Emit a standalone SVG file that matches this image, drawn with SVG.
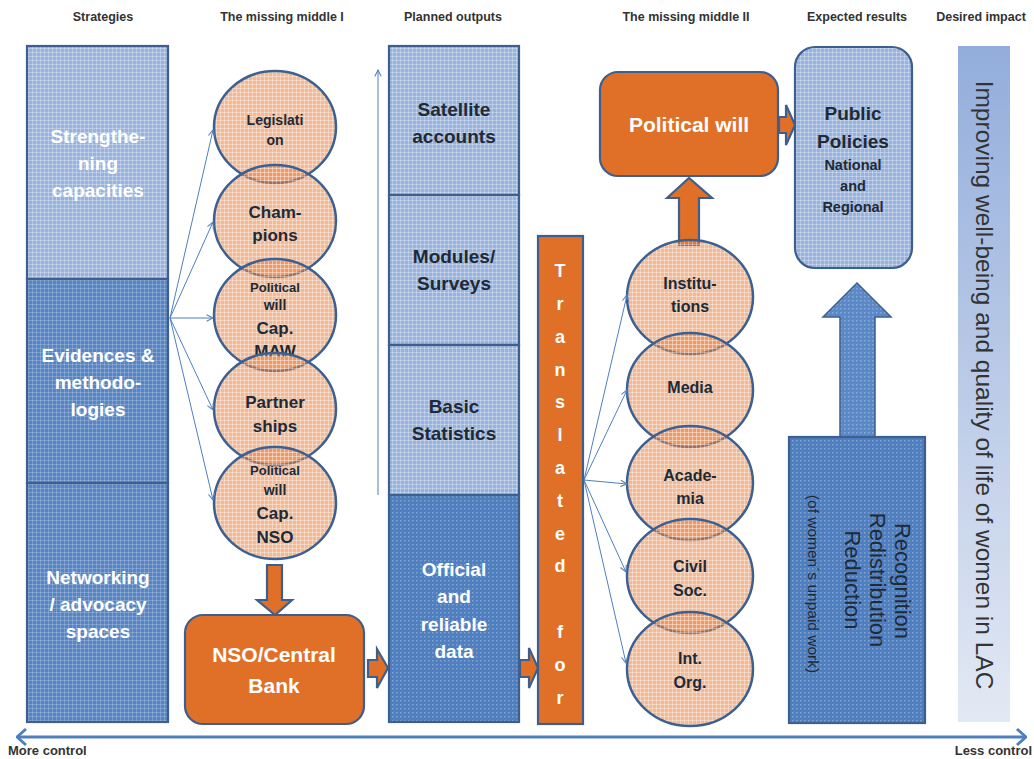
<svg xmlns="http://www.w3.org/2000/svg" width="1034" height="759" viewBox="0 0 1034 759">
<defs>
<style>
text{font-family:"Liberation Sans",Arial,sans-serif}
.h{font-size:12.5px;font-weight:bold;fill:#333;text-anchor:middle}
.t{font-weight:bold;text-anchor:middle}
.w{fill:#fff}
.d{fill:#1e2a38}
.bd{stroke:#3d5f8f;stroke-width:2.2}
.or{fill:#e07028;stroke:#3d5f8f;stroke-width:2.2}
.cn{fill:none;stroke:#4f7fbf;stroke-width:1;marker-end:url(#ah)}
.circ{fill:url(#pCirc);stroke:#3d6090;stroke-width:2.5}
.rot{fill:#1e2a38;text-anchor:middle}
</style>
<pattern id="pLight" width="4" height="4" patternUnits="userSpaceOnUse"><rect width="4" height="4" fill="#97b2dc"/><path d="M0 0.5H4M0.5 0V4" stroke="#fff" stroke-opacity="0.3" stroke-width="1"/></pattern>
<pattern id="pMid" width="4" height="4" patternUnits="userSpaceOnUse"><rect width="4" height="4" fill="#5785c3"/><path d="M0 0.5H4M0.5 0V4" stroke="#fff" stroke-opacity="0.2" stroke-width="1"/></pattern>
<pattern id="pDark" width="4" height="4" patternUnits="userSpaceOnUse"><rect width="4" height="4" fill="#4f7fbf"/><rect x="0" y="0" width="1.5" height="1.5" fill="#9fbbe3" fill-opacity="0.6"/></pattern>
<pattern id="pArrow" width="4" height="4" patternUnits="userSpaceOnUse"><rect width="4" height="4" fill="#5b88c6"/><rect x="0" y="0" width="1.5" height="1.5" fill="#a8c2e6" fill-opacity="0.6"/></pattern>
<pattern id="pCirc" width="4" height="4" patternUnits="userSpaceOnUse"><rect width="4" height="4" fill="#e8803d" fill-opacity="0.55"/><path d="M0 0.5H4M0.5 0V4" stroke="#fff" stroke-opacity="0.35" stroke-width="1"/></pattern>
<linearGradient id="gImp" x1="0" y1="0" x2="0" y2="1"><stop offset="0" stop-color="#93addb"/><stop offset="1" stop-color="#e3e9f4"/></linearGradient>
<marker id="ah" viewBox="0 0 10 10" refX="9" refY="5" markerWidth="8" markerHeight="8" orient="auto" markerUnits="userSpaceOnUse"><path d="M1,1 L9,5 L1,9" fill="none" stroke="#4f7fbf" stroke-width="1.3"/></marker>
<marker id="ahB" viewBox="0 0 12 20" refX="11" refY="10" markerWidth="12" markerHeight="20" orient="auto-start-reverse" markerUnits="userSpaceOnUse"><path d="M2,2 L11,10 L2,18" fill="none" stroke="#4f7fbf" stroke-width="3"/></marker>
</defs>
<rect width="1034" height="759" fill="#fff"/>

<g id="headers">
<text class="h" x="103" y="21">Strategies</text>
<text class="h" x="282" y="21">The missing middle I</text>
<text class="h" x="453" y="21">Planned outputs</text>
<text class="h" x="686" y="21">The missing middle II</text>
<text class="h" x="857" y="21">Expected results</text>
<text class="h" x="981" y="21">Desired impact</text>
</g>

<g id="strengthening">
<rect class="bd" x="27" y="46" width="141" height="233" fill="url(#pLight)"/>
<text class="t w" font-size="19" x="98" y="143">Strengthe-</text>
<text class="t w" font-size="19" x="98" y="170">ning</text>
<text class="t w" font-size="19" x="98" y="197">capacities</text>
</g>
<g id="evidences">
<rect class="bd" x="27" y="279" width="141" height="204" fill="url(#pMid)"/>
<text class="t w" font-size="19" x="98" y="362">Evidences &amp;</text>
<text class="t w" font-size="19" x="98" y="389">methodo-</text>
<text class="t w" font-size="19" x="98" y="416">logies</text>
</g>
<g id="networking">
<rect class="bd" x="27" y="483" width="141" height="239" fill="url(#pMid)"/>
<text class="t w" font-size="19" x="98" y="584">Networking</text>
<text class="t w" font-size="19" x="98" y="611">/ advocacy</text>
<text class="t w" font-size="19" x="98" y="638">spaces</text>
</g>

<g id="arrow-nso-down"><path class="or" d="M267,565 L282,565 L282,600 L292,600 L275,615 L257,600 L267,600 Z"/></g>
<g id="arrow-inst-up"><path class="or" d="M667,198 L689,178 L712,198 L699,198 L699,245 L679,245 L679,198 Z"/></g>

<g id="c-legislation">
<ellipse class="circ" cx="275" cy="127" rx="61" ry="56"/>
<text class="t d" font-size="14" x="275" y="125">Legislati</text>
<text class="t d" font-size="14" x="275" y="145">on</text>
</g>
<g id="c-champions">
<ellipse class="circ" cx="275" cy="221" rx="61" ry="56"/>
<text class="t d" font-size="17" x="275" y="218">Cham-</text>
<text class="t d" font-size="17" x="275" y="241">pions</text>
</g>
<g id="c-maw">
<ellipse class="circ" cx="275" cy="315" rx="61" ry="56"/>
<text class="t d" font-size="13" x="275" y="292">Political</text>
<text class="t d" font-size="14" x="275" y="310">will</text>
<text class="t d" font-size="17" x="275" y="334">Cap.</text>
<text class="t d" font-size="17" x="275" y="357">MAW</text>
</g>
<g id="c-partnerships">
<ellipse class="circ" cx="275" cy="409" rx="61" ry="56"/>
<text class="t d" font-size="17" x="275" y="408">Partner</text>
<text class="t d" font-size="17" x="275" y="432">ships</text>
</g>
<g id="c-nso">
<ellipse class="circ" cx="275" cy="503" rx="61" ry="56"/>
<text class="t d" font-size="13" x="275" y="475">Political</text>
<text class="t d" font-size="14" x="275" y="495">will</text>
<text class="t d" font-size="17" x="275" y="519">Cap.</text>
<text class="t d" font-size="17" x="275" y="543">NSO</text>
</g>

<g id="nso-central-bank">
<rect class="or" x="185" y="615" width="179" height="109" rx="18"/>
<text class="t w" font-size="21" x="274" y="662">NSO/Central</text>
<text class="t w" font-size="21" x="274" y="693">Bank</text>
</g>

<g id="satellite">
<rect class="bd" x="389" y="46" width="130" height="149" fill="url(#pLight)"/>
<text class="t d" font-size="19" x="454" y="116">Satellite</text>
<text class="t d" font-size="19" x="454" y="143">accounts</text>
</g>
<g id="modules">
<rect class="bd" x="389" y="195" width="130" height="150" fill="url(#pLight)"/>
<text class="t d" font-size="19" x="454" y="263">Modules/</text>
<text class="t d" font-size="19" x="454" y="290">Surveys</text>
</g>
<g id="basic">
<rect class="bd" x="389" y="345" width="130" height="150" fill="url(#pLight)"/>
<text class="t d" font-size="19" x="454" y="413">Basic</text>
<text class="t d" font-size="19" x="454" y="440">Statistics</text>
</g>
<g id="official">
<rect class="bd" x="389" y="495" width="130" height="227" fill="url(#pDark)"/>
<text class="t w" font-size="19" x="454" y="576">Official</text>
<text class="t w" font-size="19" x="454" y="603">and</text>
<text class="t w" font-size="19" x="454" y="631">reliable</text>
<text class="t w" font-size="19" x="454" y="658">data</text>
</g>

<g id="translated-for">
<rect class="or" x="538" y="236" width="45" height="488"/>
<g class="t w" font-size="18">
<text x="560" y="277">T</text><text x="560" y="310">r</text><text x="560" y="343">a</text><text x="560" y="376">n</text><text x="560" y="408">s</text><text x="560" y="441">l</text><text x="560" y="474">a</text><text x="560" y="507">t</text><text x="560" y="540">e</text><text x="560" y="572">d</text><text x="560" y="638">f</text><text x="560" y="671">o</text><text x="560" y="704">r</text>
</g>
</g>

<g id="c-institutions">
<ellipse class="circ" cx="690" cy="297" rx="63" ry="57"/>
<text class="t d" font-size="16" x="690" y="289">Institu-</text>
<text class="t d" font-size="16" x="690" y="312">tions</text>
</g>
<g id="c-media">
<ellipse class="circ" cx="690" cy="390" rx="63" ry="57"/>
<text class="t d" font-size="16" x="690" y="393">Media</text>
</g>
<g id="c-academia">
<ellipse class="circ" cx="690" cy="483" rx="63" ry="57"/>
<text class="t d" font-size="16" x="690" y="481">Acade-</text>
<text class="t d" font-size="16" x="690" y="504">mia</text>
</g>
<g id="c-civil">
<ellipse class="circ" cx="690" cy="576" rx="63" ry="57"/>
<text class="t d" font-size="16" x="690" y="572">Civil</text>
<text class="t d" font-size="16" x="690" y="596">Soc.</text>
</g>
<g id="c-intorg">
<ellipse class="circ" cx="690" cy="669" rx="63" ry="57"/>
<text class="t d" font-size="16" x="690" y="664">Int.</text>
<text class="t d" font-size="16" x="690" y="688">Org.</text>
</g>

<g id="political-will">
<rect class="or" x="600" y="72" width="178" height="104" rx="18"/>
<text class="t w" font-size="21" x="689" y="132">Political will</text>
</g>

<g id="public-policies">
<rect class="bd" x="795" y="47" width="117" height="221" rx="20" fill="url(#pLight)"/>
<text class="t d" font-size="19" x="853" y="120">Public</text>
<text class="t d" font-size="19" x="853" y="148">Policies</text>
<text class="t d" font-size="14.5" x="853" y="170">National</text>
<text class="t d" font-size="14.5" x="853" y="191">and</text>
<text class="t d" font-size="14.5" x="853" y="212">Regional</text>
</g>

<g id="arrow-big-up"><path d="M823,317 L857,283 L891,317 L875,317 L875,437 L840,437 L840,317 Z" fill="url(#pArrow)" stroke="#3d5f8f" stroke-width="1.5"/></g>

<g id="recognition">
<rect class="bd" x="789" y="437" width="136" height="286" fill="url(#pDark)" stroke-width="1.8"/>
<text class="rot" font-size="22" transform="translate(895,581) rotate(90)">Recognition</text>
<text class="rot" font-size="22" transform="translate(870,580) rotate(90)">Redistribution</text>
<text class="rot" font-size="22" transform="translate(845,580) rotate(90)">Reduction</text>
<text class="rot" font-size="15.5" transform="translate(808,584) rotate(90)">(of women´s unpaid work)</text>
</g>

<g id="desired-impact">
<rect x="958" y="46" width="52" height="676" fill="url(#gImp)"/>
<text transform="translate(976,385) rotate(90)" font-size="24.5" fill="#333" text-anchor="middle">Improving well-being and quality of life of women in  LAC</text>
</g>

<g id="connectors">
<path class="or" d="M368,660 L377,660 L377,649 L388,668 L377,688 L377,677 L368,677 Z"/>
<path class="or" d="M520,660 L529,660 L529,648 L538,668 L529,688 L529,677 L520,677 Z"/>
<path class="or" d="M779,117 L786,117 L786,105 L795,125 L786,145 L786,133 L779,133 Z"/>
<line class="cn" x1="170" y1="318" x2="213" y2="130"/>
<line class="cn" x1="170" y1="318" x2="213" y2="222"/>
<line class="cn" x1="170" y1="318" x2="213" y2="318"/>
<line class="cn" x1="170" y1="318" x2="213" y2="410"/>
<line class="cn" x1="170" y1="318" x2="213" y2="500"/>
<line class="cn" x1="584" y1="480" x2="627" y2="295"/>
<line class="cn" x1="584" y1="480" x2="627" y2="390"/>
<line class="cn" x1="584" y1="480" x2="627" y2="484"/>
<line class="cn" x1="584" y1="480" x2="626" y2="572"/>
<line class="cn" x1="584" y1="480" x2="626" y2="663"/>
<line class="cn" x1="378" y1="495" x2="378" y2="70"/>
<line x1="17" y1="737" x2="1026" y2="737" stroke="#4f7fbf" stroke-width="3" marker-start="url(#ahB)" marker-end="url(#ahB)"/>
</g>

<g id="axis-labels">
<text x="8" y="755" font-size="13" font-weight="bold" fill="#333">More control</text>
<text x="1032" y="755" font-size="13" font-weight="bold" fill="#333" text-anchor="end">Less control</text>
</g>
</svg>
